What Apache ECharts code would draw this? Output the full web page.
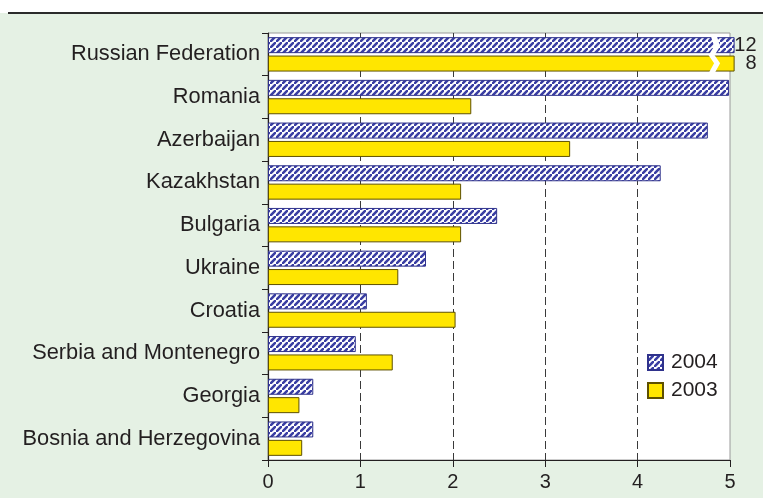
<!DOCTYPE html>
<html>
<head>
<meta charset="utf-8">
<script src="https://cdn.jsdelivr.net/npm/echarts@6/dist/echarts.min.js"></script>
<style>
html,body{margin:0;padding:0;background:#fff;}
#c{width:763px;height:498px;}
</style>
</head>
<body>
<div id="c"></div>
<script>
const categories = ['Russian Federation','Romania','Azerbaijan','Kazakhstan','Bulgaria','Ukraine','Croatia','Serbia and Montenegro','Georgia','Bosnia and Herzegovina'];
const values2004 = [12, 4.99, 4.76, 4.25, 2.48, 1.71, 1.07, 0.95, 0.49, 0.49];
const values2003 = [8, 2.20, 3.27, 2.09, 2.09, 1.41, 2.03, 1.35, 0.34, 0.37];
const seriesNames = ['2004', '2003'];
const xTickLabels = ['0','1','2','3','4','5'];
const axisMax = 5;
const barCap = 5.05;      // values above the scale are drawn broken
const breakAt = 4.79;     // where the break mark sits on the axis

function hatch() {
  const s = 6;
  const cv = document.createElement('canvas');
  cv.width = s; cv.height = s;
  const g = cv.getContext('2d');
  g.fillStyle = '#ffffff';
  g.fillRect(0, 0, s, s);
  g.strokeStyle = '#3a3ea3';
  g.lineWidth = 2.6;
  g.beginPath();
  g.moveTo(-s, s * 2); g.lineTo(s * 2, -s);
  g.moveTo(-s * 2, s); g.lineTo(s, -s * 2);
  g.moveTo(0, s * 3); g.lineTo(s * 3, 0);
  g.stroke();
  return cv;
}
const pattern = { image: hatch(), repeat: 'repeat' };

function toData(arr) {
  return arr.map(v => ({ value: Math.min(v, barCap), raw: v, label: { show: v > axisMax } }));
}

const chart = echarts.init(document.getElementById('c'), null, { renderer: 'canvas' });
const labelStyle = {
  show: false,
  position: 'right',
  distance: 2,
  formatter: p => '{a|' + p.data.raw + '}',
  rich: { a: { width: 20, align: 'right', fontSize: 20, color: '#231f20', fontFamily: 'Liberation Sans, Arial, sans-serif' } }
};

chart.setOption({
  backgroundColor: '#e5f1e4',
  animation: false,
  textStyle: { fontFamily: 'Liberation Sans, Arial, sans-serif' },
  grid: {
    left: 268, right: 33, top: 33, bottom: 38,
    show: true, backgroundColor: '#ffffff', borderColor: '#9a9a9a', borderWidth: 1,
    outerBoundsMode: 'none'
  },
  legend: {
    orient: 'vertical',
    left: 642, top: 347,
    itemWidth: 15, itemHeight: 15, itemGap: 7,
    icon: 'rect',
    textStyle: { fontSize: 21, color: '#231f20', padding: [0, 0, 0, 3] },
    data: seriesNames
  },
  xAxis: {
    type: 'value', min: 0, max: axisMax, interval: 1,
    axisLine: { show: true, lineStyle: { color: '#231f20', width: 1.2 } },
    axisTick: { show: true, length: 7, lineStyle: { color: '#231f20' } },
    axisLabel: { fontSize: 20, color: '#231f20', margin: 12, formatter: (v) => xTickLabels[Math.round(v)] },
    splitLine: { show: true, showMinLine: false, showMaxLine: false, lineStyle: { color: '#3a3a3a', type: [8, 4], width: 1 } }
  },
  yAxis: {
    type: 'category', inverse: true, data: categories,
    axisLine: { show: true, lineStyle: { color: '#231f20', width: 1.2 } },
    axisTick: { show: true, length: 6, lineStyle: { color: '#231f20' } },
    axisLabel: { fontSize: 21.8, color: '#231f20', margin: 8 },
    splitLine: { show: false }
  },
  series: [
    {
      name: seriesNames[0], type: 'bar', data: toData(values2004),
      barWidth: 16, barGap: '15%', clip: false,
      itemStyle: { color: pattern, borderColor: '#2f328c', borderWidth: 1 },
      label: labelStyle
    },
    {
      name: seriesNames[1], type: 'bar', data: toData(values2003),
      barWidth: 16, barGap: '15%', clip: false,
      itemStyle: { color: '#ffe600', borderColor: '#5e5000', borderWidth: 1 },
      label: labelStyle
    }
  ]
});

function drawExtras() {
  const c = chart.convertToPixel({ gridIndex: 0 }, [breakAt, 0]);
  const x = c[0], yc = c[1];
  const top = yc - 19, bot = yc + 19;
  const w = 6;
  const xs = [0, 3.5, -2, 3.5, -2];
  const ys = [top, yc - 8, yc + 1, yc + 9, bot];
  const pts = [];
  for (let i = 0; i < xs.length; i++) pts.push([x + xs[i], ys[i]]);
  for (let i = xs.length - 1; i >= 0; i--) pts.push([x + xs[i] + w, ys[i]]);
  chart.setOption({
    graphic: [
      { type: 'rect', shape: { x: 0, y: 0, width: 763, height: 13 }, style: { fill: '#ffffff' }, z: 0, silent: true },
      { type: 'line', shape: { x1: 8, y1: 13, x2: 763, y2: 13 }, style: { stroke: '#2b2b2b', lineWidth: 2 }, z: 0, silent: true },
      { type: 'polygon', shape: { points: pts }, style: { fill: '#ffffff' }, z: 100, silent: true }
    ]
  });
}
drawExtras();
</script>
</body>
</html>
